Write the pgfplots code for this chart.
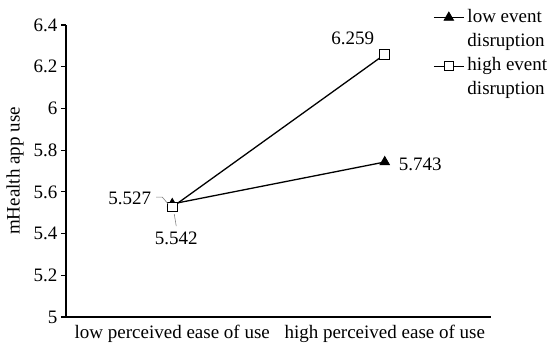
\documentclass[border=0pt]{standalone}
\usepackage{pgfplots}
\pgfplotsset{compat=1.18}
\usepackage{fontspec}
\setmainfont{Liberation Serif}

\begin{document}
\begin{tikzpicture}[font=\fontsize{19}{22.5}\selectfont]
\begin{axis}[
    scale only axis,
    width=425pt, height=292pt,
    xmin=-0.5, xmax=1.5,
    ymin=5, ymax=6.4,
    axis lines*=left,
    axis line style={line width=1.2pt},
    xtick={0,1},
    xticklabels={low perceived ease of use, high perceived ease of use},
    major x tick style={draw=none},
    ytick={5,5.2,5.4,5.6,5.8,6,6.2,6.4},
    yticklabels={5,5.2,5.4,5.6,5.8,6,6.2,6.4},
    tick align=outside,
    major tick length=5pt,
    major y tick style={line width=1.2pt, black},
    ylabel={mHealth app use},
    ylabel style={at={(axis description cs:-0.12,0.5)}, anchor=center},
    legend cell align=left,
    legend style={at={(axis description cs:0.8635,1.062)}, anchor=north west,
        draw=none, fill=none, inner sep=0pt, row sep=3.3pt, column sep=2pt,
        nodes={inner sep=1pt, text height=14pt, text depth=5pt}},
    legend image code/.code={
        \draw[mark repeat=2, mark phase=2]
        plot coordinates {(0pt,0pt) (15pt,0pt) (30pt,0pt)};},
]
\addplot[black, line width=1.3pt, mark=triangle*, mark size=5.5pt,
    mark options={solid, fill=black, line width=0.8pt}]
    coordinates {(0,5.542) (1,5.743)};
\addlegendentry{low event}
\addlegendimage{empty legend}
\addlegendentry{disruption}
\addplot[black, line width=1.3pt, mark=square*, mark size=4.8pt,
    mark options={solid, fill=white, line width=1pt}]
    coordinates {(0,5.527) (1,6.259)};
\addlegendentry{high event}
\addlegendimage{empty legend}
\addlegendentry{disruption}

\coordinate (p) at (axis cs:0,5.527);
\node[anchor=east, inner sep=0pt, xshift=-21pt, yshift=9pt] at (axis cs:0,5.527) {5.527};
\node[anchor=center, inner sep=0pt, xshift=4pt, yshift=-31pt] at (axis cs:0,5.527) {5.542};
\node[anchor=center, inner sep=0pt, xshift=-32pt, yshift=16pt] at (axis cs:1,6.259) {6.259};
\node[anchor=west, inner sep=0pt, xshift=14pt, yshift=-2pt] at (axis cs:1,5.743) {5.743};
\end{axis}
\draw[gray, line width=0.6pt] ([shift={(-16pt,10pt)}]p) -- ([shift={(-10pt,10pt)}]p)
    -- ([shift={(-4pt,3pt)}]p);
\draw[gray, line width=0.6pt] ([shift={(2pt,-7pt)}]p) -- ([shift={(4pt,-19pt)}]p);
\pgfresetboundingbox
\path[use as bounding box] ([shift={(-66pt,-36pt)}]current axis.south west)
    rectangle ([shift={(484pt,317pt)}]current axis.south west);
\end{tikzpicture}
\end{document}
